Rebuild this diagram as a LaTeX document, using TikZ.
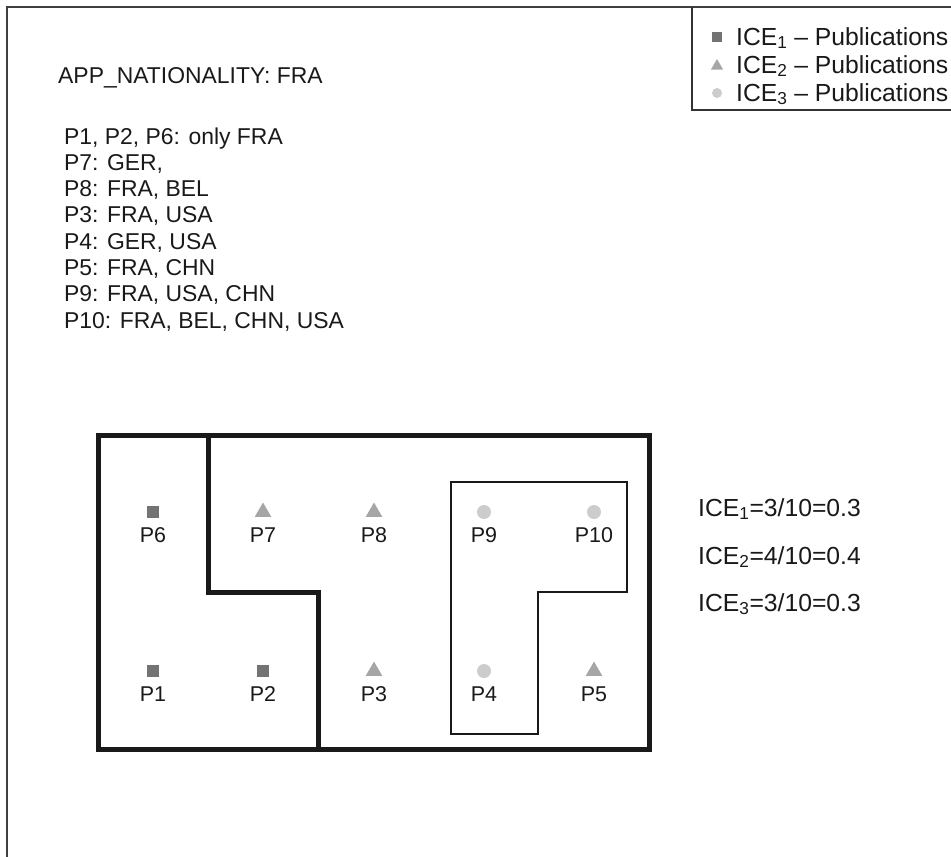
\documentclass[tikz,border=0pt]{standalone}
\usepackage{fontspec}
\setmainfont{Liberation Sans}
\usetikzlibrary{shapes.geometric}

\begin{document}
\begin{tikzpicture}[x=1bp,y=-1bp]
        \tikzset{txt/.style={font=\fontsize{23}{26}\selectfont, text=black!90, inner sep=0pt},
                 big/.style={font=\fontsize{24.8}{28}\selectfont, text=black!90, inner sep=0pt},
                 lbl/.style={font=\fontsize{21.5}{24}\selectfont, text=black!90, inner sep=0pt},
                 pubsq/.style={rectangle, fill=black!55, minimum size=12bp, inner sep=0pt},
                 pubtri/.style={regular polygon, regular polygon sides=3, fill=black!35, minimum size=19bp, inner sep=0pt},
                 pubdot/.style={circle, fill=black!20, minimum size=14bp, inner sep=0pt},
                 wall/.style={line width=5bp, black!90},
                 group/.style={line width=2.6bp, black!90}}
        \useasboundingbox (0,0) rectangle (951,857);

        % frame and legend box
        \draw [line width=2bp, black!75] (951,7)--(7,7)--(7,857);
        \draw [line width=1.5bp, black!80] (692,7)--(692,110)--(951,110);
        \node [pubsq, minimum size=10bp] (k1) at (717,37) {};
        \node [pubtri, minimum size=14bp] (k2) at (717,66) {};
        \node [pubdot, minimum size=10bp] (k3) at (717,93) {};
        \node [big, anchor=base west] (t1) at (736,45) {ICE\textsubscript{1} – Publications};
        \node [big, anchor=base west] (t2) at (736,73) {ICE\textsubscript{2} – Publications};
        \node [big, anchor=base west] (t3) at (736,101) {ICE\textsubscript{3} – Publications};

        % nationalities
        \node [txt, anchor=base west] (app) at (58,83) {APP\_NATIONALITY: FRA};
        \foreach \i/\t in {0/{P1, P2, P6: only FRA}, 1/{P7: GER,}, 2/{P8: FRA, BEL},
                           3/{P3: FRA, USA}, 4/{P4: GER, USA}, 5/{P5: FRA, CHN},
                           6/{P9: FRA, USA, CHN}, 7/{P10: FRA, BEL, CHN, USA}}
            \node [txt, anchor=base west] (nat\i) at (64,144+26.3*\i) {\t};

        % groups
        \draw [wall] (98,435) rectangle (649,749);
        \draw [wall] (208,435)--(208,592)--(318,592)--(318,749);
        \draw [group] (451,482)--(627,482)--(627,592)--(538,592)--(538,734)--(451,734)--cycle;

        % publications
        \foreach \n/\x/\y/\k in {6/153/512/pubsq, 7/263/512/pubtri, 8/374/512/pubtri,
                                 9/484/512/pubdot, 10/594/512/pubdot, 1/153/671/pubsq,
                                 2/263/671/pubsq, 3/374/671/pubtri, 4/484/671/pubdot, 5/594/671/pubtri}
        {
            \node [\k] (m\n) at (\x,\y) {};
            \node [lbl] (p\n) at (\x,\y+23) {P\n};
        }

        \node [big, anchor=base west] (ice1) at (698,516) {ICE\textsubscript{1}=3/10=0.3};
        \node [big, anchor=base west] (ice2) at (698,564) {ICE\textsubscript{2}=4/10=0.4};
        \node [big, anchor=base west] (ice3) at (698,611) {ICE\textsubscript{3}=3/10=0.3};
    \end{tikzpicture}
\end{document}
